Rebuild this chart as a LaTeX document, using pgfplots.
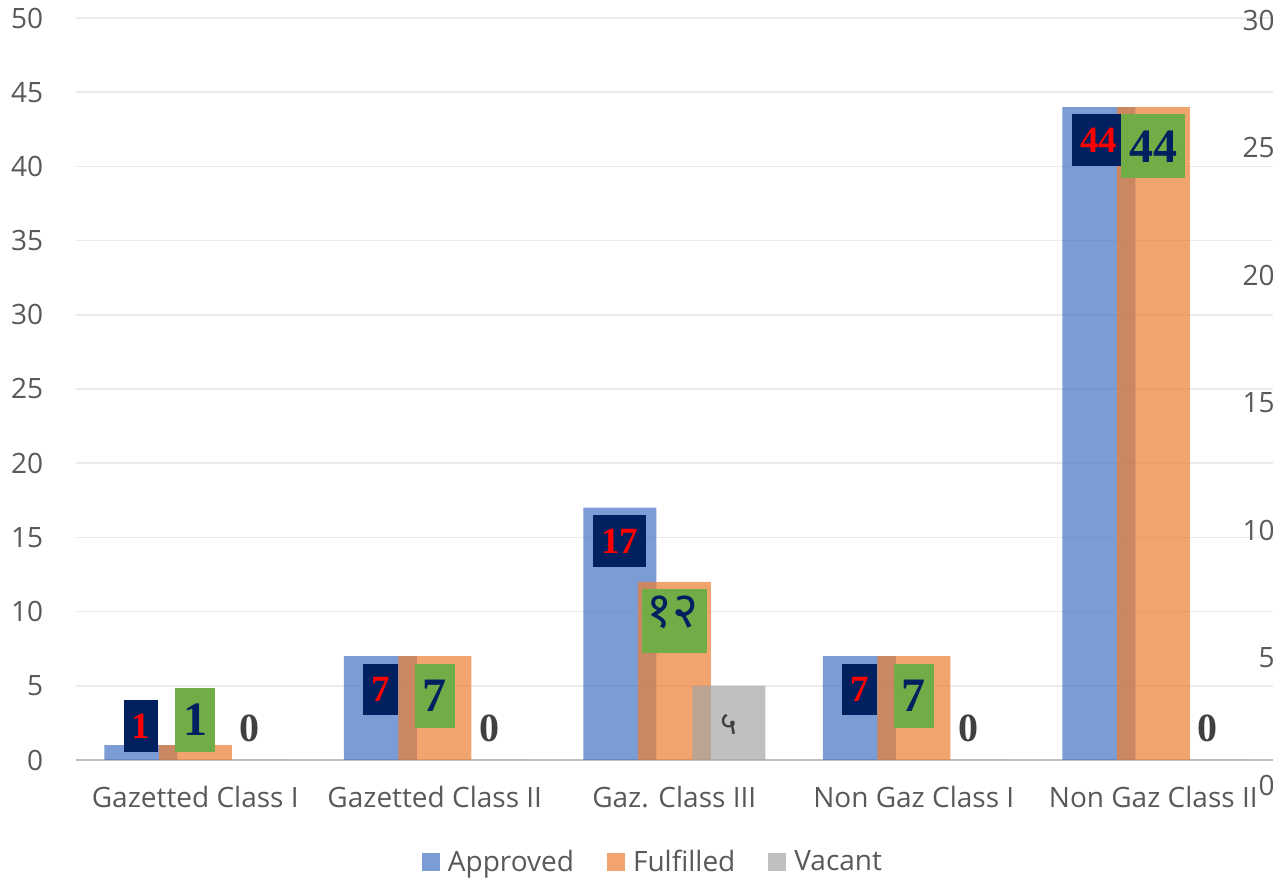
\documentclass[border=0pt]{standalone}
\usepackage{pgfplots}
\pgfplotsset{compat=1.18}
\usepackage{pgfplotstable}
\usepackage{fontspec}
\setmainfont{Open Sans}
\newfontfamily\tnr{Liberation Serif}
\newfontfamily\deva[Script=Devanagari]{Noto Sans}
\definecolor{cBlue}{HTML}{4472C4}
\definecolor{cOrange}{HTML}{ED7D31}
\definecolor{cGray}{HTML}{A5A5A5}
\definecolor{navy}{HTML}{002060}
\definecolor{lgreen}{HTML}{70AD47}
\definecolor{txt}{HTML}{595959}
\definecolor{dtxt}{HTML}{404040}
\definecolor{gridc}{HTML}{EBEBEB}
\definecolor{axc}{HTML}{BFBFBF}
\newcommand\dtwelve{{\deva\bfseries\fontsize{25}{28}\selectfont\hspace{-1.5pt}\rule[-10pt]{0pt}{26.5pt}१२\hspace{-1.5pt}}}
\newcommand\dfive{{\deva\bfseries\fontsize{16}{18}\selectfont ५}}

\pgfplotstableread{
x y lab
0 1 1
1 7 7
2 17 17
3 7 7
4 44 44
}\approved
\pgfplotstableread{
x y lab
0 1 1
1 7 7
2 12 {\dtwelve}
3 7 7
4 44 44
}\fulfilled
\pgfplotstableread{
x y lab
0 0 0
1 0 0
2 5 {\dfive}
3 0 0
4 0 0
}\vacant

\tikzset{
  redlab/.style={fill=navy, text=red, fill opacity=1, text opacity=1,
    font=\tnr\bfseries\fontsize{18.5}{20}\selectfont,
    inner xsep=4pt, inner ysep=0pt, minimum height=25.75pt, xshift=-27.25pt},
  greenlab/.style={fill=lgreen, text=navy, fill opacity=1, text opacity=1,
    font=\tnr\bfseries\fontsize{24}{26}\selectfont,
    inner xsep=4pt, inner ysep=0pt, minimum height=32pt},
  graylab/.style={text=dtxt, fill opacity=1, text opacity=1,
    font=\tnr\bfseries\fontsize{20}{22}\selectfont, inner sep=0pt, xshift=27.25pt},
}
\pgfplotsset{
  labplot/.style={draw=none, mark=none, forget plot, nodes near coords,
    point meta=explicit symbolic},
}

\begin{document}
\begin{tikzpicture}
\useasboundingbox (0,0) rectangle (636.5pt,440.5pt);
\begin{axis}[
  at={(37.75pt,60.5pt)}, anchor=south west,
  scale only axis, width=598.75pt, height=371pt,
  xmin=-0.5, xmax=4.5, ymin=0, ymax=50,
  xtick={0,...,4},
  xticklabels={Gazetted Class I, Gazetted Class II, Gaz. Class III, Non Gaz Class I, Non Gaz Class II},
  ytick={0,5,...,50},
  ymajorgrids, grid style={draw=gridc, line width=0.75pt},
  axis line style={draw=none},
  major tick length=0pt,
  tick label style={font=\fontsize{14}{16}\selectfont, text=txt},
  /pgf/number format/assume math mode=true,
  yticklabel style={anchor=east, inner sep=0pt, xshift=-16pt},
  xticklabel style={anchor=base, inner sep=0pt, yshift=-24pt},
  extra y ticks={0}, extra y tick labels={},
  extra y tick style={grid style={draw=axc, line width=1.25pt}},
  bar width=36.5pt,
  legend style={at={(0.4814,-0.1375)}, anchor=center, draw=none,
    inner sep=0pt, nodes={inner sep=0pt},
    font=\fontsize{14}{16}\selectfont, text=txt,
    /tikz/every odd column/.append style={column sep=4pt},
    /tikz/every even column/.append style={column sep=16.5pt}},
  legend columns=3,
  legend image code/.code={\fill[#1] (0pt,-4.25pt) rectangle (9pt,4.75pt);},
]
\addplot[ybar, bar shift=-27.25pt, fill=cBlue, fill opacity=0.7, draw=none]
  table[x=x, y=y]{\approved};
\addlegendentry{Approved}
\addplot[ybar, bar shift=0pt, fill=cOrange, fill opacity=0.7, draw=none]
  table[x=x, y=y]{\fulfilled};
\addlegendentry{Fulfilled}
\addplot[ybar, bar shift=27.25pt, fill=cGray, fill opacity=0.7, draw=none]
  table[x=x, y=y]{\vacant};
\addlegendentry{Vacant}
% data labels
\addplot[labplot, every node near coord/.append style={redlab, anchor=north, yshift=-3.5pt}]
  table[x=x, y=y, meta=lab, skip coords between index={0}{1}]{\approved};
\addplot[labplot, every node near coord/.append style={redlab, anchor=south, yshift=-3.5pt}]
  table[x=x, y=y, meta=lab, skip coords between index={1}{5}]{\approved};
\addplot[labplot, every node near coord/.append style={greenlab, anchor=north, yshift=-3.5pt}]
  table[x=x, y=y, meta=lab, skip coords between index={0}{1}]{\fulfilled};
\addplot[labplot, every node near coord/.append style={greenlab, anchor=south, yshift=-3.5pt}]
  table[x=x, y=y, meta=lab, skip coords between index={1}{5}]{\fulfilled};
\addplot[labplot, every node near coord/.append style={graylab, anchor=center, yshift=16pt}]
  table[x=x, y=y, meta=lab, skip coords between index={2}{3}]{\vacant};
\addplot[labplot, every node near coord/.append style={graylab, anchor=center, yshift=-19.5pt}]
  table[x=x, y=y, meta=lab, skip coords between index={0}{2}, skip coords between index={3}{5}]{\vacant};
\end{axis}
\begin{axis}[
  at={(37.75pt,48pt)}, anchor=south west,
  scale only axis, width=599.75pt, height=382.5pt,
  xmin=0, xmax=1, ymin=0, ymax=30,
  ytick={0,5,...,30},
  hide x axis, axis y line*=right, y axis line style={draw=none},
  major tick length=0pt,
  yticklabel style={anchor=east, inner sep=0pt, font=\fontsize{14}{16}\selectfont, text=txt},
  /pgf/number format/assume math mode=true,
]
\addplot[draw=none] coordinates {(0,0)};
\end{axis}
\end{tikzpicture}
\end{document}
